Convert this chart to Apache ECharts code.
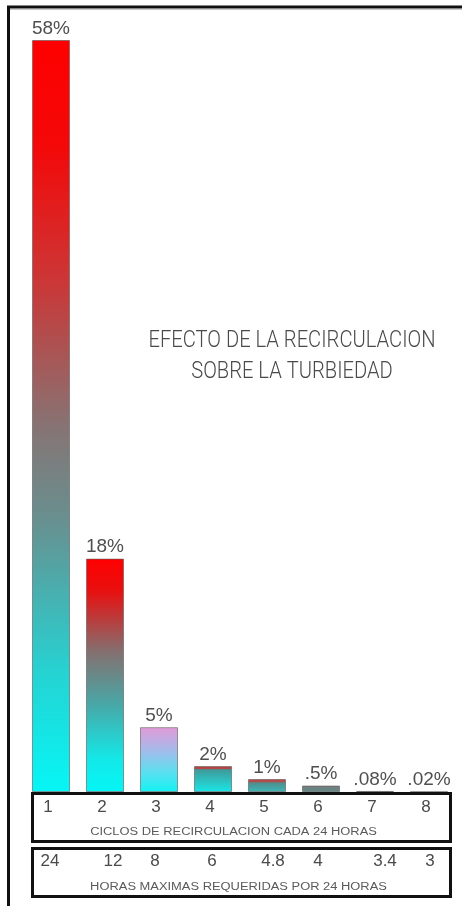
<!DOCTYPE html>
<html>
<head>
<meta charset="utf-8">
<script src="https://cdn.jsdelivr.net/npm/echarts@6/dist/echarts.min.js"></script>
<style>
  html, body { margin: 0; padding: 0; background: #ffffff; }
  #chart { width: 467px; height: 906px; }
</style>
</head>
<body>
<div id="chart"></div>
<script>
// Recirculation cycles per 24 h, the maximum hours each needs, and remaining turbidity (%)
const cycles = ['1', '2', '3', '4', '5', '6', '7', '8'];
const hours = ['24', '12', '8', '6', '4.8', '4', '3.4', '3'];
const turbidity = [58, 18, 5, 2, 1, 0.5, 0.08, 0.02];
const titleLines = ['EFECTO DE LA RECIRCULACION', 'SOBRE LA TURBIEDAD'];
const cyclesCaption = 'CICLOS DE RECIRCULACION CADA 24 HORAS';
const hoursCaption = 'HORAS MAXIMAS REQUERIDAS POR 24 HORAS';

// Vertical fill of each bar, top to bottom
const barFills = [
  [[0, '#ff0000'], [0.14, '#f40808'], [0.32, '#cc3636'], [0.52, '#857575'], [0.64, '#689090'], [0.84, '#26d2d2'], [1, '#06f6f6']],
  [[0, '#ff0000'], [0.14, '#e81010'], [0.4, '#847070'], [0.62, '#4aa6a6'], [0.86, '#14e8e8'], [1, '#04f6f6']],
  [[0, '#e29ad8'], [0.35, '#a6baea'], [0.7, '#5ae0f0'], [1, '#12f2f2']],
  [[0, '#c43c3c'], [0.1, '#b04848'], [0.14, '#3e9a9a'], [0.6, '#2cc4c4'], [1, '#18e6e6']],
  [[0, '#c84040'], [0.2, '#b05050'], [0.3, '#4e8e8e'], [1, '#3cb8b8']],
  [[0, '#7a7a7a'], [1, '#5c8c8c']],
  [[0, '#4a3c3c'], [1, '#3a3a3a']],
  [[0, '#a03c3c'], [1, '#7a3030']]
];

// Small horizontal nudges for the hour figures
const hourNudge = [-1, 8, -4, -1, 6, -3, 10, 1];

const pctLabel = v => (v < 1 ? String(v).replace(/^0/, '') : String(v)) + '%';

const hourRich = {};
hourNudge.forEach((d, i) => {
  hourRich['h' + i] = {
    fontSize: 17,
    fontFamily: '"Liberation Sans", Arial, sans-serif',
    color: '#4a4a4a',
    padding: d >= 0 ? [0, 0, 0, 2 * d] : [0, -2 * d, 0, 0]
  };
});

const textStyle = (text, font, fill) => ({
  text: text,
  font: font,
  fill: fill,
  align: 'center', verticalAlign: 'middle',
  textAlign: 'center', textVerticalAlign: 'middle'
});

const chart = echarts.init(document.getElementById('chart'), null, { renderer: 'canvas' });

chart.setOption({
  backgroundColor: '#ffffff',
  animation: false,
  grid: { left: 24, right: 11, top: 40, bottom: 114 },
  xAxis: [
    {
      type: 'category',
      data: cycles,
      position: 'bottom',
      axisLine: { show: false },
      axisTick: { show: false },
      axisLabel: {
        margin: 7,
        fontSize: 17,
        fontFamily: '"Liberation Sans", Arial, sans-serif',
        color: '#4a4a4a',
        padding: [0, 6, 0, 0]
      }
    },
    {
      type: 'category',
      data: hours,
      position: 'bottom',
      offset: 54,
      axisLine: { show: false },
      axisTick: { show: false },
      axisLabel: {
        margin: 7,
        formatter: (v, i) => '{h' + i + '|' + v + '}',
        rich: hourRich
      }
    }
  ],
  yAxis: {
    type: 'value',
    min: 0,
    max: 58,
    show: false,
    splitLine: { show: false }
  },
  series: [
    {
      type: 'bar',
      barWidth: 38,
      data: turbidity.map((v, i) => ({
        value: v,
        itemStyle: {
          color: new echarts.graphic.LinearGradient(0, 0, 0, 1,
            barFills[i].map(([o, c]) => ({ offset: o, color: c })))
        }
      })),
      itemStyle: {
        borderColor: 'rgba(90,90,90,0.6)',
        borderWidth: 1
      },
      label: {
        show: true,
        position: 'top',
        distance: 2,
        formatter: p => pctLabel(p.value),
        fontSize: 19,
        fontFamily: '"Liberation Sans", Arial, sans-serif',
        color: '#4f4f4f'
      }
    }
  ],
  graphic: [
    // outer frame (left and top edges)
    {
      type: 'polyline',
      shape: { points: [[8.5, 906], [8.5, 7], [462, 7]] },
      style: { stroke: '#111111', lineWidth: 3, fill: null },
      z: 10
    },
    {
      type: 'line',
      shape: { x1: 10, y1: 9.5, x2: 462, y2: 9.5 },
      style: { stroke: '#c8c8c8', lineWidth: 1 },
      z: 10
    },
    // cycles box
    {
      type: 'rect',
      shape: { x: 32.5, y: 793.5, width: 418, height: 48 },
      style: { stroke: '#111111', lineWidth: 3, fill: null },
      z: 10
    },
    // hours box
    {
      type: 'rect',
      shape: { x: 32.5, y: 848.5, width: 418, height: 48 },
      style: { stroke: '#111111', lineWidth: 3, fill: null },
      z: 10
    },
    {
      type: 'text', x: 292, y: 341, scaleX: 0.84,
      style: textStyle(titleLines[0], '300 24px Roboto, "Liberation Sans", Arial, sans-serif', '#4a4a4a'),
      z: 10
    },
    {
      type: 'text', x: 292, y: 372, scaleX: 0.84,
      style: textStyle(titleLines[1], '300 24px Roboto, "Liberation Sans", Arial, sans-serif', '#4a4a4a'),
      z: 10
    },
    {
      type: 'text', x: 233.5, y: 832, scaleX: 1.29,
      style: textStyle(cyclesCaption, '10px "Liberation Sans", Arial, sans-serif', '#5a5a5a'),
      z: 10
    },
    {
      type: 'text', x: 238.5, y: 887, scaleX: 1.29,
      style: textStyle(hoursCaption, '10px "Liberation Sans", Arial, sans-serif', '#5a5a5a'),
      z: 10
    }
  ]
});
</script>
</body>
</html>
